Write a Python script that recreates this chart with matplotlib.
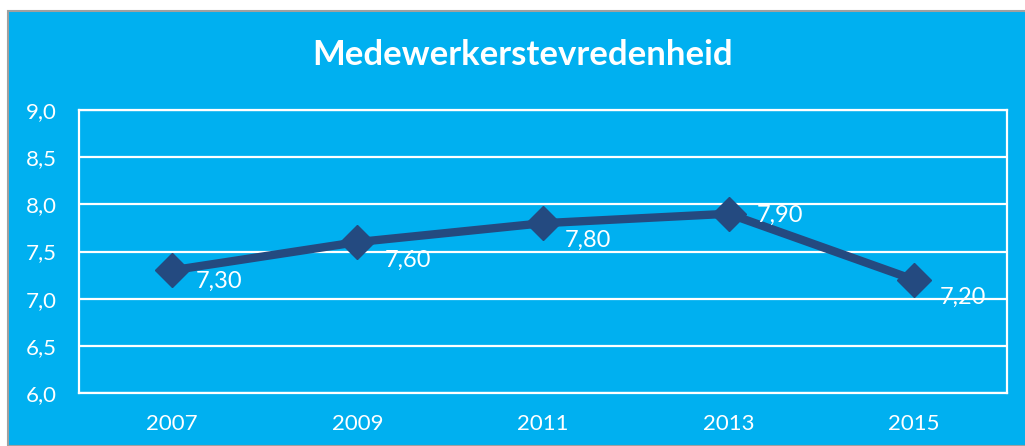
import matplotlib.pyplot as plt
from matplotlib.patches import Rectangle
from matplotlib.ticker import FuncFormatter

# data
jaren = ['2007', '2009', '2011', '2013', '2015']
scores = [7.30, 7.60, 7.80, 7.90, 7.20]

blauw = '#00B0F0'
lijn = '#244A80'

plt.rcParams['font.family'] = ['Lato', 'DejaVu Sans']

fig = plt.figure(figsize=(10.25, 4.46), dpi=100)
fig.patch.set_facecolor('white')
# chart area background with grey border
fig.patches.append(Rectangle((8 / 1025, 0), 1.0, 1 - 11 / 446, transform=fig.transFigure,
                             facecolor=blauw, edgecolor='#A0A0A0', linewidth=1.5, zorder=-1))

ax = fig.add_axes([79 / 1025, 1 - 393 / 446, 928 / 1025, 283 / 446])
ax.set_facecolor(blauw)
x = range(len(jaren))
ax.plot(x, scores, color=lijn, linewidth=6, marker='D', markersize=17, zorder=3, clip_on=False)

# data labels, Excel style (right of the point)
offsets = [(24, -11), (27, -18), (22, -17), (28, -2), (26, -18)]
for i, v in enumerate(scores):
    ax.annotate(f'{v:.2f}'.replace('.', ','), (i, v), xytext=offsets[i], textcoords='offset pixels',
                color='white', fontsize=17, ha='left', va='center', zorder=4)

ax.set_xlim(-0.5, len(jaren) - 0.5)
ax.set_ylim(6.0, 9.0)
ax.set_yticks([6.0, 6.5, 7.0, 7.5, 8.0, 8.5, 9.0])
ax.yaxis.set_major_formatter(FuncFormatter(lambda v, p: f'{v:.1f}'.replace('.', ',')))
ax.set_xticks(list(x))
ax.set_xticklabels(jaren)
ax.grid(axis='y', color='white', linewidth=1.6)
ax.set_axisbelow(True)
for s in ax.spines.values():
    s.set_color('white')
    s.set_linewidth(1.6)
ax.tick_params(length=0, colors='white', labelsize=16)
ax.tick_params(axis='y', pad=16)
ax.tick_params(axis='x', pad=15)

fig.text(523 / 1025, 1 - 55 / 446, 'Medewerkerstevredenheid', color='white', fontsize=25,
         fontweight='bold', ha='center', va='center')

fig.savefig('out.png', dpi=100, facecolor=fig.get_facecolor())
